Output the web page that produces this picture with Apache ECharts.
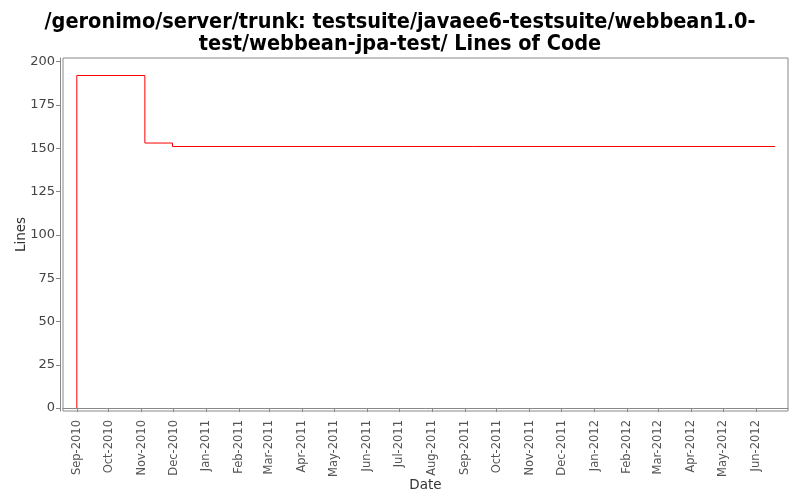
<!DOCTYPE html>
<html><head><meta charset="utf-8">
<script src="https://cdn.jsdelivr.net/npm/echarts@6/dist/echarts.min.js"></script>
<style>html,body{margin:0;padding:0;background:#fff}#c{width:800px;height:500px}</style>
</head><body><div id="c"></div>
<script>
const dates = ['2010-09-01', '2010-09-01', '2010-11-04', '2010-11-30', '2012-06-19'];
const lines = [0, 192, 153, 151, 151];
const yTicks = [0, 25, 50, 75, 100, 125, 150, 175, 200];
const monthTicks = ['2010-09-01','2010-10-01','2010-11-01','2010-12-01','2011-01-01','2011-02-01','2011-03-01','2011-04-01','2011-05-01','2011-06-01','2011-07-01','2011-08-01','2011-09-01','2011-10-01','2011-11-01','2011-12-01','2012-01-01','2012-02-01','2012-03-01','2012-04-01','2012-05-01','2012-06-01'];
const monthNames = ['Jan','Feb','Mar','Apr','May','Jun','Jul','Aug','Sep','Oct','Nov','Dec'];
const ts = s => { const p = s.split('-').map(Number); return Date.UTC(p[0], p[1]-1, p[2]); };
const chart = echarts.init(document.getElementById('c'));
chart.setOption({
  animation: false,
  title: {
    text: '/geronimo/server/trunk: testsuite/javaee6-testsuite/webbean1.0-\ntest/webbean-jpa-test/ Lines of Code',
    left: 'center', top: 6,
    textStyle: {fontFamily: 'DejaVu Sans Condensed', fontWeight: 'bold', fontSize: 21.5, color: '#000', lineHeight: 22}
  },
  grid: {left: 63, right: 12, top: 58, bottom: 89, show: true, borderColor: '#888', borderWidth: 1, outerBoundsMode: 'none', containLabel: false},
  xAxis: {
    type: 'value', min: ts('2010-08-19'), max: ts('2012-07-01'), offset: 3,
    name: 'Date', nameLocation: 'middle', nameGap: 64, nameMoveOverlap: false,
    nameTextStyle: {fontFamily: 'DejaVu Sans', fontSize: 13.5, color: '#333'},
    axisLine: {lineStyle: {color: '#888'}},
    axisTick: {customValues: monthTicks.map(ts), length: 4, lineStyle: {color: '#888'}},
    axisLabel: {customValues: monthTicks.map(ts), rotate: 90, fontFamily: 'DejaVu Sans', fontSize: 11.5, color: '#555', margin: 6,
      formatter: v => { const d = new Date(v); return monthNames[d.getUTCMonth()] + '-' + d.getUTCFullYear(); }},
    splitLine: {show: false}
  },
  yAxis: {
    type: 'value', min: -1.7, max: 202.1, offset: 3,
    name: 'Lines', nameLocation: 'middle', nameGap: 32, nameMoveOverlap: false,
    nameTextStyle: {fontFamily: 'DejaVu Sans', fontSize: 13.5, color: '#333'},
    axisLine: {show: true, lineStyle: {color: '#888'}},
    axisTick: {show: true, customValues: yTicks, length: 4, lineStyle: {color: '#888'}},
    axisLabel: {customValues: yTicks, fontFamily: 'DejaVu Sans', fontSize: 13, color: '#444', margin: 5},
    splitLine: {show: false}
  },
  series: [{
    type: 'line', step: 'end', symbol: 'none',
    lineStyle: {color: '#ff0000', width: 1},
    data: dates.map((d, i) => [ts(d), lines[i]])
  }]
});
</script></body></html>
